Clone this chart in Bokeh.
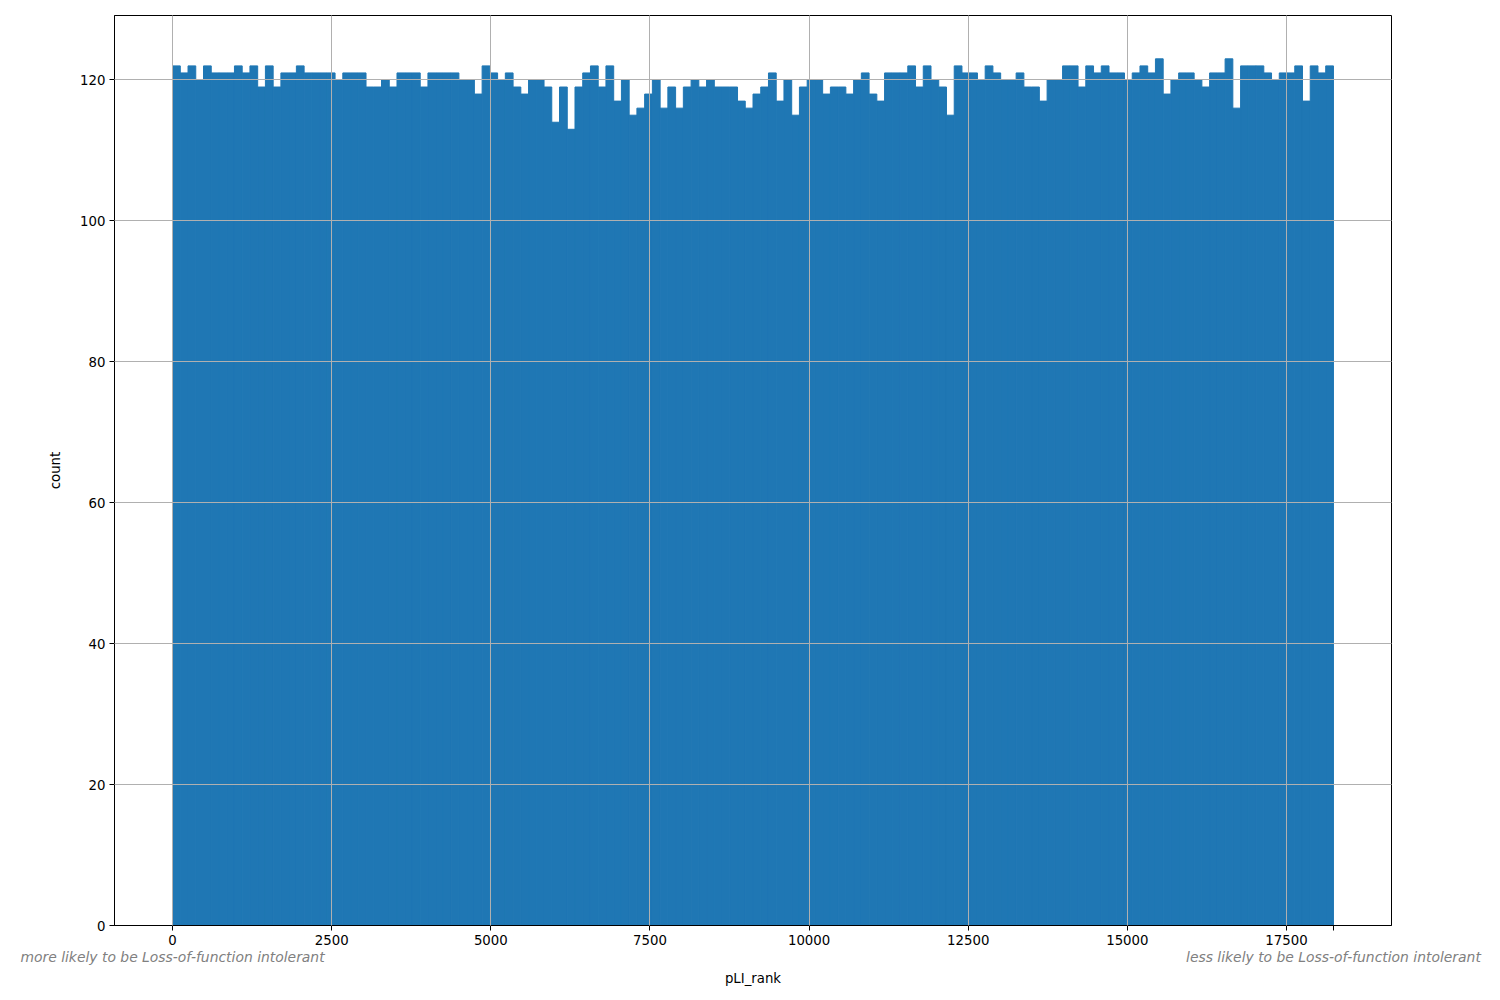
import numpy as np
from bokeh.plotting import figure
from bokeh.models import FixedTicker, Range1d, ColumnDataSource, LinearAxis
from bokeh.embed import file_html
from bokeh.resources import INLINE

# ---- data -------------------------------------------------------------
rank_min = 0
rank_max = 18238
n_bins = 150
counts = [
    122, 121, 122, 120, 122, 121, 121, 121, 122, 121,
    122, 119, 122, 119, 121, 121, 122, 121, 121, 121,
    121, 120, 121, 121, 121, 119, 119, 120, 119, 121,
    121, 121, 119, 121, 121, 121, 121, 120, 120, 118,
    122, 121, 120, 121, 119, 118, 120, 120, 119, 114,
    119, 113, 119, 121, 122, 119, 122, 117, 120, 115,
    116, 118, 120, 116, 119, 116, 119, 120, 119, 120,
    119, 119, 119, 117, 116, 118, 119, 121, 117, 120,
    115, 119, 120, 120, 118, 119, 119, 118, 120, 121,
    118, 117, 121, 121, 121, 122, 119, 122, 120, 119,
    115, 122, 121, 121, 120, 122, 121, 120, 120, 121,
    119, 119, 117, 120, 120, 122, 122, 119, 122, 121,
    122, 121, 121, 120, 121, 122, 121, 123, 118, 120,
    121, 121, 120, 119, 121, 121, 123, 116, 122, 122,
    122, 121, 120, 121, 121, 122, 117, 122, 121, 122,
]
x_ticks = [0, 2500, 5000, 7500, 10000, 12500, 15000, 17500]
y_ticks = [0, 20, 40, 60, 80, 100, 120]
x_label = "pLI_rank"
y_label = "count"
left_note = "more likely to be Loss-of-function intolerant"
right_note = "less likely to be Loss-of-function intolerant"

# ---- build ------------------------------------------------------------
edges = np.linspace(rank_min, rank_max, n_bins + 1)
src = ColumnDataSource(dict(left=edges[:-1], right=edges[1:], top=counts,
                            bottom=[0] * len(counts)))

span = rank_max - rank_min
ymax = max(counts) * 1.05

p = figure(width=1500, height=1000, output_backend="svg", toolbar_location=None,
           x_range=Range1d(rank_min - 0.05 * span, rank_max + 0.05 * span),
           y_range=Range1d(0, ymax),
           min_border_left=114, min_border_right=109, min_border_top=15,
           min_border_bottom=75)

bar_color = "#1f77b4"
p.quad(left="left", right="right", top="top", bottom="bottom", source=src,
       fill_color=bar_color, line_color=bar_color, line_width=1)

font = "DejaVu Sans"
for ax in (p.xaxis[0], p.yaxis[0]):
    ax.axis_line_color = "black"
    ax.major_tick_line_color = "black"
    ax.major_tick_out = 5
    ax.major_tick_in = 0
    ax.minor_tick_line_color = None
    ax.major_label_text_font = font
    ax.major_label_text_font_size = "13.3px"
    ax.major_label_text_color = "black"
    ax.axis_label_text_font = font
    ax.axis_label_text_font_size = "13.3px"
    ax.axis_label_text_font_style = "normal"
    ax.axis_label_text_color = "black"

p.xaxis.ticker = FixedTicker(ticks=x_ticks + [rank_max])
p.xaxis.major_label_overrides = {rank_max: ""}
p.yaxis.ticker = FixedTicker(ticks=y_ticks)
p.yaxis.axis_label = y_label
p.yaxis.axis_label_standoff = 14
p.xaxis.major_label_standoff = 4
p.yaxis.major_label_standoff = 4

# secondary bottom axis carrying the two italic notes and the axis title
note_axis = LinearAxis(ticker=FixedTicker(ticks=[rank_min, rank_max]),
                       major_label_overrides={rank_min: left_note, rank_max: right_note})
note_axis.axis_line_color = None
note_axis.major_tick_line_color = None
note_axis.minor_tick_line_color = None
note_axis.major_tick_out = 0
note_axis.major_tick_in = 0
note_axis.major_label_standoff = 1
note_axis.major_label_text_font = font
note_axis.major_label_text_font_size = "13.9px"
note_axis.major_label_text_font_style = "italic"
note_axis.major_label_text_color = "gray"
note_axis.axis_label = x_label
note_axis.axis_label_text_font = font
note_axis.axis_label_text_font_size = "13.3px"
note_axis.axis_label_text_font_style = "normal"
note_axis.axis_label_text_color = "black"
note_axis.axis_label_standoff = 3
p.add_layout(note_axis, "below")

p.xgrid.ticker = FixedTicker(ticks=x_ticks)
p.ygrid.ticker = FixedTicker(ticks=y_ticks)
for g in (p.xgrid[0], p.ygrid[0]):
    g.grid_line_color = "#b0b0b0"
    g.grid_line_width = 1
    g.level = "overlay"

p.outline_line_color = "black"
p.outline_line_width = 1

open("out.html", "w").write(file_html(p, INLINE))
